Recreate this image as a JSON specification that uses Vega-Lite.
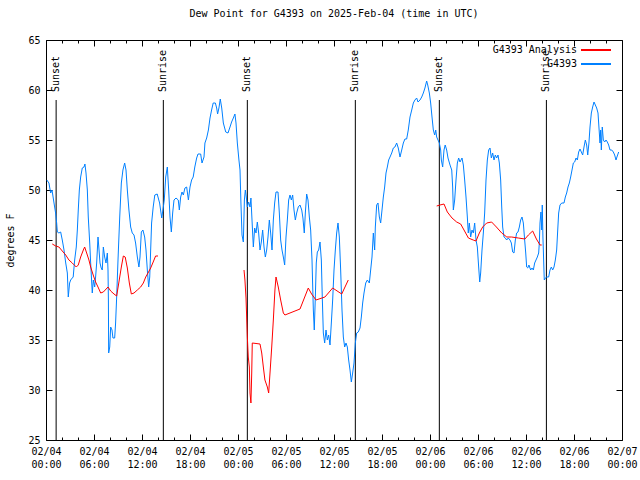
{
"$schema":"https://vega.github.io/schema/vega-lite/v6.json",
"width":576,"height":400,"autosize":"none",
"padding":{"left":46,"top":40,"right":18,"bottom":40},
"title":{"text":"Dew Point for G4393 on 2025-Feb-04 (time in UTC)","font":"DejaVu Sans Mono","fontSize":10,"fontWeight":"normal","color":"black","offset":16,"anchor":"middle"},
"config":{"view":{"stroke":"black","strokeWidth":1},"font":"DejaVu Sans Mono",
"axis":{"domainColor":"black","tickColor":"black","labelColor":"black","grid":false,"labelFont":"DejaVu Sans Mono","labelFontSize":10,"titleFont":"DejaVu Sans Mono","titleFontSize":10,"titleFontWeight":"normal","titleColor":"black"}},
"datasets":{
"sun":[{"t":"2025-02-04T01:16Z","label":"Sunset"},{"t":"2025-02-04T14:40Z","label":"Sunrise"},{"t":"2025-02-05T01:10Z","label":"Sunset"},{"t":"2025-02-05T14:40Z","label":"Sunrise"},{"t":"2025-02-06T01:10Z","label":"Sunset"},{"t":"2025-02-06T14:33Z","label":"Sunrise"}],
"red":[
{"t":"2025-02-04T00:47Z","v":44.6,"seg":"a","s":"G4393 Analysis"},{"t":"2025-02-04T01:13Z","v":44.4,"seg":"a","s":"G4393 Analysis"},{"t":"2025-02-04T01:37Z","v":44.3,"seg":"a","s":"G4393 Analysis"},{"t":"2025-02-04T02:02Z","v":43.9,"seg":"a","s":"G4393 Analysis"},{"t":"2025-02-04T02:28Z","v":43.5,"seg":"a","s":"G4393 Analysis"},{"t":"2025-02-04T02:52Z","v":43.0,"seg":"a","s":"G4393 Analysis"},{"t":"2025-02-04T03:17Z","v":42.7,"seg":"a","s":"G4393 Analysis"},{"t":"2025-02-04T03:47Z","v":42.3,"seg":"a","s":"G4393 Analysis"},{"t":"2025-02-04T04:02Z","v":42.5,"seg":"a","s":"G4393 Analysis"},{"t":"2025-02-04T04:20Z","v":43.3,"seg":"a","s":"G4393 Analysis"},{"t":"2025-02-04T04:40Z","v":44.0,"seg":"a","s":"G4393 Analysis"},{"t":"2025-02-04T04:50Z","v":44.3,"seg":"a","s":"G4393 Analysis"},{"t":"2025-02-04T05:05Z","v":43.7,"seg":"a","s":"G4393 Analysis"},{"t":"2025-02-04T05:22Z","v":43.0,"seg":"a","s":"G4393 Analysis"},{"t":"2025-02-04T05:35Z","v":42.3,"seg":"a","s":"G4393 Analysis"},{"t":"2025-02-04T05:54Z","v":41.5,"seg":"a","s":"G4393 Analysis"},{"t":"2025-02-04T06:12Z","v":40.8,"seg":"a","s":"G4393 Analysis"},{"t":"2025-02-04T06:30Z","v":40.3,"seg":"a","s":"G4393 Analysis"},{"t":"2025-02-04T06:50Z","v":39.7,"seg":"a","s":"G4393 Analysis"},{"t":"2025-02-04T07:10Z","v":39.8,"seg":"a","s":"G4393 Analysis"},{"t":"2025-02-04T07:45Z","v":40.3,"seg":"a","s":"G4393 Analysis"},{"t":"2025-02-04T08:05Z","v":39.9,"seg":"a","s":"G4393 Analysis"},{"t":"2025-02-04T08:30Z","v":39.6,"seg":"a","s":"G4393 Analysis"},{"t":"2025-02-04T08:50Z","v":39.4,"seg":"a","s":"G4393 Analysis"},{"t":"2025-02-04T09:07Z","v":40.8,"seg":"a","s":"G4393 Analysis"},{"t":"2025-02-04T09:25Z","v":42.3,"seg":"a","s":"G4393 Analysis"},{"t":"2025-02-04T09:40Z","v":43.4,"seg":"a","s":"G4393 Analysis"},{"t":"2025-02-04T09:54Z","v":43.3,"seg":"a","s":"G4393 Analysis"},{"t":"2025-02-04T10:10Z","v":42.2,"seg":"a","s":"G4393 Analysis"},{"t":"2025-02-04T10:25Z","v":40.7,"seg":"a","s":"G4393 Analysis"},{"t":"2025-02-04T10:40Z","v":39.6,"seg":"a","s":"G4393 Analysis"},{"t":"2025-02-04T11:00Z","v":39.7,"seg":"a","s":"G4393 Analysis"},{"t":"2025-02-04T11:25Z","v":40.0,"seg":"a","s":"G4393 Analysis"},{"t":"2025-02-04T11:50Z","v":40.3,"seg":"a","s":"G4393 Analysis"},{"t":"2025-02-04T12:10Z","v":40.7,"seg":"a","s":"G4393 Analysis"},{"t":"2025-02-04T12:28Z","v":41.3,"seg":"a","s":"G4393 Analysis"},{"t":"2025-02-04T12:45Z","v":41.7,"seg":"a","s":"G4393 Analysis"},{"t":"2025-02-04T13:05Z","v":42.2,"seg":"a","s":"G4393 Analysis"},{"t":"2025-02-04T13:24Z","v":42.8,"seg":"a","s":"G4393 Analysis"},{"t":"2025-02-04T13:42Z","v":43.4,"seg":"a","s":"G4393 Analysis"},{"t":"2025-02-04T14:00Z","v":43.4,"seg":"a","s":"G4393 Analysis"},
{"t":"2025-02-05T00:45Z","v":42.0,"seg":"b","s":"G4393 Analysis"},{"t":"2025-02-05T00:52Z","v":41.0,"seg":"b","s":"G4393 Analysis"},{"t":"2025-02-05T01:00Z","v":39.2,"seg":"b","s":"G4393 Analysis"},{"t":"2025-02-05T01:05Z","v":37.3,"seg":"b","s":"G4393 Analysis"},{"t":"2025-02-05T01:10Z","v":35.3,"seg":"b","s":"G4393 Analysis"},{"t":"2025-02-05T01:17Z","v":33.3,"seg":"b","s":"G4393 Analysis"},{"t":"2025-02-05T01:25Z","v":32.3,"seg":"b","s":"G4393 Analysis"},{"t":"2025-02-05T01:30Z","v":29.7,"seg":"b","s":"G4393 Analysis"},{"t":"2025-02-05T01:37Z","v":28.7,"seg":"b","s":"G4393 Analysis"},{"t":"2025-02-05T01:43Z","v":31.7,"seg":"b","s":"G4393 Analysis"},{"t":"2025-02-05T01:47Z","v":34.7,"seg":"b","s":"G4393 Analysis"},{"t":"2025-02-05T02:45Z","v":34.6,"seg":"b","s":"G4393 Analysis"},{"t":"2025-02-05T02:58Z","v":33.7,"seg":"b","s":"G4393 Analysis"},{"t":"2025-02-05T03:10Z","v":32.3,"seg":"b","s":"G4393 Analysis"},{"t":"2025-02-05T03:22Z","v":31.0,"seg":"b","s":"G4393 Analysis"},{"t":"2025-02-05T03:40Z","v":30.3,"seg":"b","s":"G4393 Analysis"},{"t":"2025-02-05T03:50Z","v":29.7,"seg":"b","s":"G4393 Analysis"},{"t":"2025-02-05T04:00Z","v":31.7,"seg":"b","s":"G4393 Analysis"},{"t":"2025-02-05T04:13Z","v":34.3,"seg":"b","s":"G4393 Analysis"},{"t":"2025-02-05T04:25Z","v":37.0,"seg":"b","s":"G4393 Analysis"},{"t":"2025-02-05T04:37Z","v":40.0,"seg":"b","s":"G4393 Analysis"},{"t":"2025-02-05T04:45Z","v":41.3,"seg":"b","s":"G4393 Analysis"},{"t":"2025-02-05T05:02Z","v":40.3,"seg":"b","s":"G4393 Analysis"},{"t":"2025-02-05T05:20Z","v":39.0,"seg":"b","s":"G4393 Analysis"},{"t":"2025-02-05T05:40Z","v":37.7,"seg":"b","s":"G4393 Analysis"},{"t":"2025-02-05T05:52Z","v":37.5,"seg":"b","s":"G4393 Analysis"},{"t":"2025-02-05T07:45Z","v":38.1,"seg":"b","s":"G4393 Analysis"},{"t":"2025-02-05T08:47Z","v":40.2,"seg":"b","s":"G4393 Analysis"},{"t":"2025-02-05T09:12Z","v":39.6,"seg":"b","s":"G4393 Analysis"},{"t":"2025-02-05T09:45Z","v":39.0,"seg":"b","s":"G4393 Analysis"},{"t":"2025-02-05T10:52Z","v":39.3,"seg":"b","s":"G4393 Analysis"},{"t":"2025-02-05T11:50Z","v":40.2,"seg":"b","s":"G4393 Analysis"},{"t":"2025-02-05T12:58Z","v":39.6,"seg":"b","s":"G4393 Analysis"},{"t":"2025-02-05T13:47Z","v":41.0,"seg":"b","s":"G4393 Analysis"},
{"t":"2025-02-06T00:50Z","v":48.4,"seg":"c","s":"G4393 Analysis"},{"t":"2025-02-06T01:15Z","v":48.5,"seg":"c","s":"G4393 Analysis"},{"t":"2025-02-06T01:45Z","v":48.6,"seg":"c","s":"G4393 Analysis"},{"t":"2025-02-06T02:10Z","v":47.8,"seg":"c","s":"G4393 Analysis"},{"t":"2025-02-06T02:45Z","v":47.2,"seg":"c","s":"G4393 Analysis"},{"t":"2025-02-06T03:20Z","v":46.8,"seg":"c","s":"G4393 Analysis"},{"t":"2025-02-06T03:50Z","v":46.6,"seg":"c","s":"G4393 Analysis"},{"t":"2025-02-06T04:15Z","v":46.0,"seg":"c","s":"G4393 Analysis"},{"t":"2025-02-06T04:48Z","v":45.2,"seg":"c","s":"G4393 Analysis"},{"t":"2025-02-06T05:24Z","v":45.0,"seg":"c","s":"G4393 Analysis"},{"t":"2025-02-06T05:45Z","v":44.9,"seg":"c","s":"G4393 Analysis"},{"t":"2025-02-06T06:10Z","v":45.7,"seg":"c","s":"G4393 Analysis"},{"t":"2025-02-06T06:35Z","v":46.3,"seg":"c","s":"G4393 Analysis"},{"t":"2025-02-06T07:05Z","v":46.7,"seg":"c","s":"G4393 Analysis"},{"t":"2025-02-06T07:42Z","v":46.8,"seg":"c","s":"G4393 Analysis"},{"t":"2025-02-06T08:18Z","v":46.3,"seg":"c","s":"G4393 Analysis"},{"t":"2025-02-06T08:58Z","v":45.7,"seg":"c","s":"G4393 Analysis"},{"t":"2025-02-06T09:36Z","v":45.3,"seg":"c","s":"G4393 Analysis"},{"t":"2025-02-06T10:12Z","v":45.3,"seg":"c","s":"G4393 Analysis"},{"t":"2025-02-06T11:02Z","v":45.2,"seg":"c","s":"G4393 Analysis"},{"t":"2025-02-06T11:52Z","v":45.1,"seg":"c","s":"G4393 Analysis"},{"t":"2025-02-06T12:18Z","v":45.5,"seg":"c","s":"G4393 Analysis"},{"t":"2025-02-06T12:50Z","v":45.9,"seg":"c","s":"G4393 Analysis"},{"t":"2025-02-06T13:18Z","v":45.1,"seg":"c","s":"G4393 Analysis"},{"t":"2025-02-06T13:45Z","v":44.5,"seg":"c","s":"G4393 Analysis"},{"t":"2025-02-06T13:58Z","v":44.5,"seg":"c","s":"G4393 Analysis"}],
"blue":[
{"t":"2025-02-04T00:06Z","v":51.0,"s":"G4393"},{"t":"2025-02-04T00:22Z","v":50.7,"s":"G4393"},{"t":"2025-02-04T00:35Z","v":49.7,"s":"G4393"},{"t":"2025-02-04T00:45Z","v":50.0,"s":"G4393"},{"t":"2025-02-04T01:00Z","v":48.7,"s":"G4393"},{"t":"2025-02-04T01:12Z","v":47.7,"s":"G4393"},{"t":"2025-02-04T01:20Z","v":46.7,"s":"G4393"},{"t":"2025-02-04T01:25Z","v":45.8,"s":"G4393"},{"t":"2025-02-04T01:37Z","v":45.7,"s":"G4393"},{"t":"2025-02-04T01:50Z","v":45.8,"s":"G4393"},{"t":"2025-02-04T02:02Z","v":45.0,"s":"G4393"},{"t":"2025-02-04T02:15Z","v":44.0,"s":"G4393"},{"t":"2025-02-04T02:28Z","v":42.7,"s":"G4393"},{"t":"2025-02-04T02:40Z","v":41.7,"s":"G4393"},{"t":"2025-02-04T02:47Z","v":39.3,"s":"G4393"},{"t":"2025-02-04T02:57Z","v":40.7,"s":"G4393"},{"t":"2025-02-04T03:05Z","v":41.0,"s":"G4393"},{"t":"2025-02-04T03:17Z","v":41.2,"s":"G4393"},{"t":"2025-02-04T03:24Z","v":41.3,"s":"G4393"},{"t":"2025-02-04T03:35Z","v":43.0,"s":"G4393"},{"t":"2025-02-04T03:47Z","v":44.3,"s":"G4393"},{"t":"2025-02-04T03:55Z","v":46.0,"s":"G4393"},{"t":"2025-02-04T04:02Z","v":48.0,"s":"G4393"},{"t":"2025-02-04T04:10Z","v":50.0,"s":"G4393"},{"t":"2025-02-04T04:20Z","v":51.3,"s":"G4393"},{"t":"2025-02-04T04:32Z","v":52.2,"s":"G4393"},{"t":"2025-02-04T04:45Z","v":52.3,"s":"G4393"},{"t":"2025-02-04T04:52Z","v":52.6,"s":"G4393"},{"t":"2025-02-04T05:00Z","v":51.7,"s":"G4393"},{"t":"2025-02-04T05:10Z","v":50.0,"s":"G4393"},{"t":"2025-02-04T05:17Z","v":47.3,"s":"G4393"},{"t":"2025-02-04T05:28Z","v":44.7,"s":"G4393"},{"t":"2025-02-04T05:35Z","v":42.7,"s":"G4393"},{"t":"2025-02-04T05:47Z","v":39.7,"s":"G4393"},{"t":"2025-02-04T05:55Z","v":41.0,"s":"G4393"},{"t":"2025-02-04T06:05Z","v":40.3,"s":"G4393"},{"t":"2025-02-04T06:12Z","v":41.3,"s":"G4393"},{"t":"2025-02-04T06:20Z","v":42.7,"s":"G4393"},{"t":"2025-02-04T06:30Z","v":45.3,"s":"G4393"},{"t":"2025-02-04T06:36Z","v":44.3,"s":"G4393"},{"t":"2025-02-04T06:45Z","v":42.7,"s":"G4393"},{"t":"2025-02-04T06:54Z","v":42.2,"s":"G4393"},{"t":"2025-02-04T07:02Z","v":42.0,"s":"G4393"},{"t":"2025-02-04T07:10Z","v":44.3,"s":"G4393"},{"t":"2025-02-04T07:20Z","v":43.3,"s":"G4393"},{"t":"2025-02-04T07:30Z","v":42.7,"s":"G4393"},{"t":"2025-02-04T07:40Z","v":43.7,"s":"G4393"},{"t":"2025-02-04T07:45Z","v":42.0,"s":"G4393"},{"t":"2025-02-04T07:48Z","v":39.0,"s":"G4393"},{"t":"2025-02-04T07:50Z","v":33.7,"s":"G4393"},{"t":"2025-02-04T07:58Z","v":34.3,"s":"G4393"},{"t":"2025-02-04T08:05Z","v":36.3,"s":"G4393"},{"t":"2025-02-04T08:15Z","v":36.0,"s":"G4393"},{"t":"2025-02-04T08:22Z","v":35.2,"s":"G4393"},{"t":"2025-02-04T08:35Z","v":35.2,"s":"G4393"},{"t":"2025-02-04T08:42Z","v":36.7,"s":"G4393"},{"t":"2025-02-04T08:50Z","v":39.3,"s":"G4393"},{"t":"2025-02-04T09:00Z","v":43.0,"s":"G4393"},{"t":"2025-02-04T09:13Z","v":47.3,"s":"G4393"},{"t":"2025-02-04T09:25Z","v":50.7,"s":"G4393"},{"t":"2025-02-04T09:37Z","v":52.0,"s":"G4393"},{"t":"2025-02-04T09:50Z","v":52.7,"s":"G4393"},{"t":"2025-02-04T10:00Z","v":52.0,"s":"G4393"},{"t":"2025-02-04T10:10Z","v":50.0,"s":"G4393"},{"t":"2025-02-04T10:22Z","v":48.0,"s":"G4393"},{"t":"2025-02-04T10:35Z","v":46.3,"s":"G4393"},{"t":"2025-02-04T10:47Z","v":45.7,"s":"G4393"},{"t":"2025-02-04T11:00Z","v":45.5,"s":"G4393"},{"t":"2025-02-04T11:12Z","v":44.7,"s":"G4393"},{"t":"2025-02-04T11:25Z","v":43.3,"s":"G4393"},{"t":"2025-02-04T11:37Z","v":42.3,"s":"G4393"},{"t":"2025-02-04T11:45Z","v":43.3,"s":"G4393"},{"t":"2025-02-04T11:55Z","v":45.8,"s":"G4393"},{"t":"2025-02-04T12:07Z","v":46.0,"s":"G4393"},{"t":"2025-02-04T12:20Z","v":45.3,"s":"G4393"},{"t":"2025-02-04T12:30Z","v":44.0,"s":"G4393"},{"t":"2025-02-04T12:40Z","v":42.0,"s":"G4393"},{"t":"2025-02-04T12:50Z","v":40.3,"s":"G4393"},{"t":"2025-02-04T12:58Z","v":41.3,"s":"G4393"},{"t":"2025-02-04T13:05Z","v":44.0,"s":"G4393"},{"t":"2025-02-04T13:12Z","v":46.7,"s":"G4393"},{"t":"2025-02-04T13:24Z","v":48.3,"s":"G4393"},{"t":"2025-02-04T13:36Z","v":49.5,"s":"G4393"},{"t":"2025-02-04T13:54Z","v":49.6,"s":"G4393"},{"t":"2025-02-04T14:12Z","v":48.7,"s":"G4393"},{"t":"2025-02-04T14:28Z","v":47.2,"s":"G4393"},{"t":"2025-02-04T14:40Z","v":48.3,"s":"G4393"},{"t":"2025-02-04T14:47Z","v":49.0,"s":"G4393"},{"t":"2025-02-04T14:58Z","v":51.3,"s":"G4393"},{"t":"2025-02-04T15:10Z","v":52.3,"s":"G4393"},{"t":"2025-02-04T15:20Z","v":50.0,"s":"G4393"},{"t":"2025-02-04T15:30Z","v":47.3,"s":"G4393"},{"t":"2025-02-04T15:40Z","v":45.8,"s":"G4393"},{"t":"2025-02-04T15:50Z","v":47.7,"s":"G4393"},{"t":"2025-02-04T16:00Z","v":49.0,"s":"G4393"},{"t":"2025-02-04T16:15Z","v":49.2,"s":"G4393"},{"t":"2025-02-04T16:32Z","v":49.0,"s":"G4393"},{"t":"2025-02-04T16:40Z","v":48.0,"s":"G4393"},{"t":"2025-02-04T16:50Z","v":49.3,"s":"G4393"},{"t":"2025-02-04T17:00Z","v":49.8,"s":"G4393"},{"t":"2025-02-04T17:10Z","v":49.5,"s":"G4393"},{"t":"2025-02-04T17:22Z","v":50.2,"s":"G4393"},{"t":"2025-02-04T17:35Z","v":50.3,"s":"G4393"},{"t":"2025-02-04T17:48Z","v":49.0,"s":"G4393"},{"t":"2025-02-04T18:00Z","v":50.3,"s":"G4393"},{"t":"2025-02-04T18:12Z","v":51.0,"s":"G4393"},{"t":"2025-02-04T18:24Z","v":51.3,"s":"G4393"},{"t":"2025-02-04T18:36Z","v":52.3,"s":"G4393"},{"t":"2025-02-04T18:50Z","v":53.2,"s":"G4393"},{"t":"2025-02-04T19:00Z","v":53.6,"s":"G4393"},{"t":"2025-02-04T19:20Z","v":53.6,"s":"G4393"},{"t":"2025-02-04T19:30Z","v":52.7,"s":"G4393"},{"t":"2025-02-04T19:45Z","v":53.3,"s":"G4393"},{"t":"2025-02-04T19:52Z","v":54.7,"s":"G4393"},{"t":"2025-02-04T20:05Z","v":55.2,"s":"G4393"},{"t":"2025-02-04T20:18Z","v":56.0,"s":"G4393"},{"t":"2025-02-04T20:30Z","v":57.2,"s":"G4393"},{"t":"2025-02-04T20:42Z","v":58.0,"s":"G4393"},{"t":"2025-02-04T20:54Z","v":58.7,"s":"G4393"},{"t":"2025-02-04T21:10Z","v":58.7,"s":"G4393"},{"t":"2025-02-04T21:20Z","v":58.2,"s":"G4393"},{"t":"2025-02-04T21:27Z","v":57.6,"s":"G4393"},{"t":"2025-02-04T21:37Z","v":58.2,"s":"G4393"},{"t":"2025-02-04T21:47Z","v":59.1,"s":"G4393"},{"t":"2025-02-04T21:58Z","v":58.2,"s":"G4393"},{"t":"2025-02-04T22:10Z","v":56.7,"s":"G4393"},{"t":"2025-02-04T22:28Z","v":55.8,"s":"G4393"},{"t":"2025-02-04T22:45Z","v":55.7,"s":"G4393"},{"t":"2025-02-04T23:00Z","v":56.3,"s":"G4393"},{"t":"2025-02-04T23:12Z","v":56.8,"s":"G4393"},{"t":"2025-02-04T23:25Z","v":57.2,"s":"G4393"},{"t":"2025-02-04T23:37Z","v":57.6,"s":"G4393"},{"t":"2025-02-04T23:45Z","v":56.7,"s":"G4393"},{"t":"2025-02-04T23:55Z","v":54.7,"s":"G4393"},
{"t":"2025-02-05T00:07Z","v":53.0,"s":"G4393"},{"t":"2025-02-05T00:15Z","v":52.0,"s":"G4393"},{"t":"2025-02-05T00:22Z","v":48.7,"s":"G4393"},{"t":"2025-02-05T00:30Z","v":45.5,"s":"G4393"},{"t":"2025-02-05T00:40Z","v":44.8,"s":"G4393"},{"t":"2025-02-05T00:48Z","v":49.0,"s":"G4393"},{"t":"2025-02-05T00:55Z","v":50.0,"s":"G4393"},{"t":"2025-02-05T01:02Z","v":49.3,"s":"G4393"},{"t":"2025-02-05T01:10Z","v":48.3,"s":"G4393"},{"t":"2025-02-05T01:20Z","v":48.8,"s":"G4393"},{"t":"2025-02-05T01:30Z","v":48.3,"s":"G4393"},{"t":"2025-02-05T01:37Z","v":49.2,"s":"G4393"},{"t":"2025-02-05T01:45Z","v":47.0,"s":"G4393"},{"t":"2025-02-05T01:55Z","v":44.3,"s":"G4393"},{"t":"2025-02-05T02:05Z","v":46.2,"s":"G4393"},{"t":"2025-02-05T02:15Z","v":45.7,"s":"G4393"},{"t":"2025-02-05T02:25Z","v":46.8,"s":"G4393"},{"t":"2025-02-05T02:35Z","v":45.7,"s":"G4393"},{"t":"2025-02-05T02:45Z","v":44.0,"s":"G4393"},{"t":"2025-02-05T02:55Z","v":44.8,"s":"G4393"},{"t":"2025-02-05T03:05Z","v":46.0,"s":"G4393"},{"t":"2025-02-05T03:15Z","v":44.3,"s":"G4393"},{"t":"2025-02-05T03:25Z","v":43.3,"s":"G4393"},{"t":"2025-02-05T03:35Z","v":44.0,"s":"G4393"},{"t":"2025-02-05T03:45Z","v":45.3,"s":"G4393"},{"t":"2025-02-05T03:55Z","v":47.0,"s":"G4393"},{"t":"2025-02-05T04:05Z","v":45.7,"s":"G4393"},{"t":"2025-02-05T04:15Z","v":44.0,"s":"G4393"},{"t":"2025-02-05T04:25Z","v":47.0,"s":"G4393"},{"t":"2025-02-05T04:35Z","v":48.7,"s":"G4393"},{"t":"2025-02-05T04:45Z","v":49.8,"s":"G4393"},{"t":"2025-02-05T05:00Z","v":49.8,"s":"G4393"},{"t":"2025-02-05T05:10Z","v":47.7,"s":"G4393"},{"t":"2025-02-05T05:20Z","v":45.0,"s":"G4393"},{"t":"2025-02-05T05:30Z","v":44.0,"s":"G4393"},{"t":"2025-02-05T05:40Z","v":43.3,"s":"G4393"},{"t":"2025-02-05T05:50Z","v":42.5,"s":"G4393"},{"t":"2025-02-05T06:00Z","v":45.3,"s":"G4393"},{"t":"2025-02-05T06:10Z","v":47.0,"s":"G4393"},{"t":"2025-02-05T06:20Z","v":49.0,"s":"G4393"},{"t":"2025-02-05T06:30Z","v":49.5,"s":"G4393"},{"t":"2025-02-05T06:40Z","v":49.0,"s":"G4393"},{"t":"2025-02-05T06:50Z","v":49.5,"s":"G4393"},{"t":"2025-02-05T07:00Z","v":48.0,"s":"G4393"},{"t":"2025-02-05T07:10Z","v":47.0,"s":"G4393"},{"t":"2025-02-05T07:20Z","v":47.7,"s":"G4393"},{"t":"2025-02-05T07:32Z","v":48.3,"s":"G4393"},{"t":"2025-02-05T07:45Z","v":48.5,"s":"G4393"},{"t":"2025-02-05T07:58Z","v":48.0,"s":"G4393"},{"t":"2025-02-05T08:07Z","v":47.2,"s":"G4393"},{"t":"2025-02-05T08:17Z","v":45.7,"s":"G4393"},{"t":"2025-02-05T08:25Z","v":47.7,"s":"G4393"},{"t":"2025-02-05T08:35Z","v":49.6,"s":"G4393"},{"t":"2025-02-05T08:45Z","v":49.0,"s":"G4393"},{"t":"2025-02-05T08:55Z","v":47.3,"s":"G4393"},{"t":"2025-02-05T09:05Z","v":46.0,"s":"G4393"},{"t":"2025-02-05T09:15Z","v":43.0,"s":"G4393"},{"t":"2025-02-05T09:25Z","v":38.0,"s":"G4393"},{"t":"2025-02-05T09:32Z","v":36.0,"s":"G4393"},{"t":"2025-02-05T09:40Z","v":39.3,"s":"G4393"},{"t":"2025-02-05T09:47Z","v":42.7,"s":"G4393"},{"t":"2025-02-05T09:55Z","v":43.8,"s":"G4393"},{"t":"2025-02-05T10:05Z","v":44.0,"s":"G4393"},{"t":"2025-02-05T10:15Z","v":44.8,"s":"G4393"},{"t":"2025-02-05T10:25Z","v":43.0,"s":"G4393"},{"t":"2025-02-05T10:32Z","v":39.3,"s":"G4393"},{"t":"2025-02-05T10:40Z","v":35.7,"s":"G4393"},{"t":"2025-02-05T10:50Z","v":34.7,"s":"G4393"},{"t":"2025-02-05T11:00Z","v":36.0,"s":"G4393"},{"t":"2025-02-05T11:10Z","v":35.0,"s":"G4393"},{"t":"2025-02-05T11:20Z","v":35.5,"s":"G4393"},{"t":"2025-02-05T11:30Z","v":34.5,"s":"G4393"},{"t":"2025-02-05T11:40Z","v":36.7,"s":"G4393"},{"t":"2025-02-05T11:50Z","v":39.0,"s":"G4393"},{"t":"2025-02-05T12:00Z","v":42.0,"s":"G4393"},{"t":"2025-02-05T12:10Z","v":44.0,"s":"G4393"},{"t":"2025-02-05T12:20Z","v":45.7,"s":"G4393"},{"t":"2025-02-05T12:30Z","v":46.7,"s":"G4393"},{"t":"2025-02-05T12:40Z","v":45.3,"s":"G4393"},{"t":"2025-02-05T12:50Z","v":42.0,"s":"G4393"},{"t":"2025-02-05T13:00Z","v":38.0,"s":"G4393"},{"t":"2025-02-05T13:10Z","v":35.3,"s":"G4393"},{"t":"2025-02-05T13:20Z","v":34.3,"s":"G4393"},{"t":"2025-02-05T13:30Z","v":34.7,"s":"G4393"},{"t":"2025-02-05T13:40Z","v":34.3,"s":"G4393"},{"t":"2025-02-05T13:50Z","v":33.0,"s":"G4393"},{"t":"2025-02-05T14:00Z","v":32.0,"s":"G4393"},{"t":"2025-02-05T14:10Z","v":30.8,"s":"G4393"},{"t":"2025-02-05T14:20Z","v":31.7,"s":"G4393"},{"t":"2025-02-05T14:30Z","v":32.7,"s":"G4393"},{"t":"2025-02-05T14:40Z","v":34.7,"s":"G4393"},{"t":"2025-02-05T14:50Z","v":35.7,"s":"G4393"},{"t":"2025-02-05T15:02Z","v":35.8,"s":"G4393"},{"t":"2025-02-05T15:15Z","v":36.2,"s":"G4393"},{"t":"2025-02-05T15:25Z","v":37.3,"s":"G4393"},{"t":"2025-02-05T15:35Z","v":38.7,"s":"G4393"},{"t":"2025-02-05T15:45Z","v":39.7,"s":"G4393"},{"t":"2025-02-05T15:58Z","v":40.7,"s":"G4393"},{"t":"2025-02-05T16:10Z","v":41.0,"s":"G4393"},{"t":"2025-02-05T16:25Z","v":40.7,"s":"G4393"},{"t":"2025-02-05T16:35Z","v":42.0,"s":"G4393"},{"t":"2025-02-05T16:45Z","v":43.3,"s":"G4393"},{"t":"2025-02-05T16:55Z","v":45.7,"s":"G4393"},{"t":"2025-02-05T17:05Z","v":44.0,"s":"G4393"},{"t":"2025-02-05T17:10Z","v":46.3,"s":"G4393"},{"t":"2025-02-05T17:20Z","v":48.5,"s":"G4393"},{"t":"2025-02-05T17:30Z","v":48.7,"s":"G4393"},{"t":"2025-02-05T17:40Z","v":47.3,"s":"G4393"},{"t":"2025-02-05T17:50Z","v":46.7,"s":"G4393"},{"t":"2025-02-05T18:00Z","v":48.0,"s":"G4393"},{"t":"2025-02-05T18:10Z","v":49.3,"s":"G4393"},{"t":"2025-02-05T18:20Z","v":50.3,"s":"G4393"},{"t":"2025-02-05T18:30Z","v":51.7,"s":"G4393"},{"t":"2025-02-05T18:40Z","v":52.3,"s":"G4393"},{"t":"2025-02-05T18:50Z","v":53.0,"s":"G4393"},{"t":"2025-02-05T19:00Z","v":53.3,"s":"G4393"},{"t":"2025-02-05T19:13Z","v":53.7,"s":"G4393"},{"t":"2025-02-05T19:25Z","v":54.2,"s":"G4393"},{"t":"2025-02-05T19:37Z","v":54.3,"s":"G4393"},{"t":"2025-02-05T19:50Z","v":54.7,"s":"G4393"},{"t":"2025-02-05T20:02Z","v":54.2,"s":"G4393"},{"t":"2025-02-05T20:15Z","v":53.3,"s":"G4393"},{"t":"2025-02-05T20:28Z","v":54.0,"s":"G4393"},{"t":"2025-02-05T20:40Z","v":54.7,"s":"G4393"},{"t":"2025-02-05T20:52Z","v":55.1,"s":"G4393"},{"t":"2025-02-05T21:05Z","v":55.1,"s":"G4393"},{"t":"2025-02-05T21:17Z","v":56.0,"s":"G4393"},{"t":"2025-02-05T21:30Z","v":57.3,"s":"G4393"},{"t":"2025-02-05T21:43Z","v":58.0,"s":"G4393"},{"t":"2025-02-05T21:55Z","v":58.7,"s":"G4393"},{"t":"2025-02-05T22:07Z","v":59.0,"s":"G4393"},{"t":"2025-02-05T22:20Z","v":59.2,"s":"G4393"},{"t":"2025-02-05T22:30Z","v":58.8,"s":"G4393"},{"t":"2025-02-05T22:45Z","v":59.0,"s":"G4393"},{"t":"2025-02-05T22:58Z","v":59.3,"s":"G4393"},{"t":"2025-02-05T23:10Z","v":59.7,"s":"G4393"},{"t":"2025-02-05T23:22Z","v":60.2,"s":"G4393"},{"t":"2025-02-05T23:35Z","v":60.9,"s":"G4393"},{"t":"2025-02-05T23:43Z","v":60.5,"s":"G4393"},{"t":"2025-02-05T23:55Z","v":59.7,"s":"G4393"},
{"t":"2025-02-06T00:05Z","v":58.7,"s":"G4393"},{"t":"2025-02-06T00:15Z","v":57.3,"s":"G4393"},{"t":"2025-02-06T00:25Z","v":56.0,"s":"G4393"},{"t":"2025-02-06T00:35Z","v":55.5,"s":"G4393"},{"t":"2025-02-06T00:43Z","v":56.0,"s":"G4393"},{"t":"2025-02-06T00:50Z","v":55.3,"s":"G4393"},{"t":"2025-02-06T01:00Z","v":55.0,"s":"G4393"},{"t":"2025-02-06T01:10Z","v":54.7,"s":"G4393"},{"t":"2025-02-06T01:20Z","v":54.0,"s":"G4393"},{"t":"2025-02-06T01:25Z","v":53.0,"s":"G4393"},{"t":"2025-02-06T01:35Z","v":52.3,"s":"G4393"},{"t":"2025-02-06T01:45Z","v":54.0,"s":"G4393"},{"t":"2025-02-06T01:54Z","v":54.5,"s":"G4393"},{"t":"2025-02-06T02:05Z","v":54.0,"s":"G4393"},{"t":"2025-02-06T02:15Z","v":53.2,"s":"G4393"},{"t":"2025-02-06T02:30Z","v":52.5,"s":"G4393"},{"t":"2025-02-06T02:43Z","v":52.0,"s":"G4393"},{"t":"2025-02-06T02:50Z","v":50.3,"s":"G4393"},{"t":"2025-02-06T02:55Z","v":48.0,"s":"G4393"},{"t":"2025-02-06T03:05Z","v":49.0,"s":"G4393"},{"t":"2025-02-06T03:15Z","v":51.0,"s":"G4393"},{"t":"2025-02-06T03:25Z","v":52.7,"s":"G4393"},{"t":"2025-02-06T03:35Z","v":53.2,"s":"G4393"},{"t":"2025-02-06T03:45Z","v":52.8,"s":"G4393"},{"t":"2025-02-06T04:00Z","v":53.2,"s":"G4393"},{"t":"2025-02-06T04:10Z","v":52.5,"s":"G4393"},{"t":"2025-02-06T04:20Z","v":51.0,"s":"G4393"},{"t":"2025-02-06T04:30Z","v":49.3,"s":"G4393"},{"t":"2025-02-06T04:40Z","v":47.3,"s":"G4393"},{"t":"2025-02-06T04:47Z","v":45.7,"s":"G4393"},{"t":"2025-02-06T04:55Z","v":46.7,"s":"G4393"},{"t":"2025-02-06T05:05Z","v":45.3,"s":"G4393"},{"t":"2025-02-06T05:15Z","v":46.0,"s":"G4393"},{"t":"2025-02-06T05:25Z","v":45.7,"s":"G4393"},{"t":"2025-02-06T05:35Z","v":46.7,"s":"G4393"},{"t":"2025-02-06T05:45Z","v":45.0,"s":"G4393"},{"t":"2025-02-06T05:55Z","v":44.3,"s":"G4393"},{"t":"2025-02-06T06:05Z","v":42.3,"s":"G4393"},{"t":"2025-02-06T06:13Z","v":40.8,"s":"G4393"},{"t":"2025-02-06T06:20Z","v":41.7,"s":"G4393"},{"t":"2025-02-06T06:30Z","v":44.0,"s":"G4393"},{"t":"2025-02-06T06:40Z","v":45.7,"s":"G4393"},{"t":"2025-02-06T06:50Z","v":47.7,"s":"G4393"},{"t":"2025-02-06T07:00Z","v":51.0,"s":"G4393"},{"t":"2025-02-06T07:10Z","v":53.0,"s":"G4393"},{"t":"2025-02-06T07:20Z","v":54.0,"s":"G4393"},{"t":"2025-02-06T07:30Z","v":54.2,"s":"G4393"},{"t":"2025-02-06T07:40Z","v":53.2,"s":"G4393"},{"t":"2025-02-06T07:50Z","v":53.7,"s":"G4393"},{"t":"2025-02-06T08:00Z","v":53.0,"s":"G4393"},{"t":"2025-02-06T08:10Z","v":53.5,"s":"G4393"},{"t":"2025-02-06T08:20Z","v":53.2,"s":"G4393"},{"t":"2025-02-06T08:30Z","v":53.5,"s":"G4393"},{"t":"2025-02-06T08:40Z","v":52.7,"s":"G4393"},{"t":"2025-02-06T08:50Z","v":51.0,"s":"G4393"},{"t":"2025-02-06T08:58Z","v":48.3,"s":"G4393"},{"t":"2025-02-06T09:05Z","v":46.3,"s":"G4393"},{"t":"2025-02-06T09:15Z","v":45.3,"s":"G4393"},{"t":"2025-02-06T09:25Z","v":45.2,"s":"G4393"},{"t":"2025-02-06T09:35Z","v":45.0,"s":"G4393"},{"t":"2025-02-06T09:47Z","v":45.2,"s":"G4393"},{"t":"2025-02-06T10:00Z","v":45.0,"s":"G4393"},{"t":"2025-02-06T10:10Z","v":44.7,"s":"G4393"},{"t":"2025-02-06T10:20Z","v":43.8,"s":"G4393"},{"t":"2025-02-06T10:30Z","v":43.7,"s":"G4393"},{"t":"2025-02-06T10:40Z","v":45.0,"s":"G4393"},{"t":"2025-02-06T10:50Z","v":45.7,"s":"G4393"},{"t":"2025-02-06T11:00Z","v":45.8,"s":"G4393"},{"t":"2025-02-06T11:10Z","v":46.3,"s":"G4393"},{"t":"2025-02-06T11:20Z","v":47.0,"s":"G4393"},{"t":"2025-02-06T11:30Z","v":47.3,"s":"G4393"},{"t":"2025-02-06T11:40Z","v":46.7,"s":"G4393"},{"t":"2025-02-06T11:50Z","v":45.0,"s":"G4393"},{"t":"2025-02-06T11:58Z","v":43.7,"s":"G4393"},{"t":"2025-02-06T12:05Z","v":42.3,"s":"G4393"},{"t":"2025-02-06T12:13Z","v":42.2,"s":"G4393"},{"t":"2025-02-06T12:22Z","v":42.5,"s":"G4393"},{"t":"2025-02-06T12:35Z","v":42.0,"s":"G4393"},{"t":"2025-02-06T12:45Z","v":42.2,"s":"G4393"},{"t":"2025-02-06T12:55Z","v":42.0,"s":"G4393"},{"t":"2025-02-06T13:05Z","v":42.7,"s":"G4393"},{"t":"2025-02-06T13:15Z","v":43.0,"s":"G4393"},{"t":"2025-02-06T13:25Z","v":43.3,"s":"G4393"},{"t":"2025-02-06T13:35Z","v":43.7,"s":"G4393"},{"t":"2025-02-06T13:40Z","v":44.7,"s":"G4393"},{"t":"2025-02-06T13:45Z","v":46.7,"s":"G4393"},{"t":"2025-02-06T13:52Z","v":47.8,"s":"G4393"},{"t":"2025-02-06T13:58Z","v":46.0,"s":"G4393"},{"t":"2025-02-06T14:02Z","v":48.5,"s":"G4393"},{"t":"2025-02-06T14:07Z","v":45.3,"s":"G4393"},{"t":"2025-02-06T14:13Z","v":42.7,"s":"G4393"},{"t":"2025-02-06T14:17Z","v":41.0,"s":"G4393"},{"t":"2025-02-06T14:25Z","v":41.2,"s":"G4393"},{"t":"2025-02-06T14:35Z","v":41.3,"s":"G4393"},{"t":"2025-02-06T14:50Z","v":41.3,"s":"G4393"},{"t":"2025-02-06T15:00Z","v":42.0,"s":"G4393"},{"t":"2025-02-06T15:10Z","v":42.3,"s":"G4393"},{"t":"2025-02-06T15:20Z","v":42.0,"s":"G4393"},{"t":"2025-02-06T15:30Z","v":42.3,"s":"G4393"},{"t":"2025-02-06T15:40Z","v":43.0,"s":"G4393"},{"t":"2025-02-06T15:50Z","v":44.0,"s":"G4393"},{"t":"2025-02-06T15:58Z","v":46.0,"s":"G4393"},{"t":"2025-02-06T16:05Z","v":47.7,"s":"G4393"},{"t":"2025-02-06T16:15Z","v":48.5,"s":"G4393"},{"t":"2025-02-06T16:28Z","v":48.7,"s":"G4393"},{"t":"2025-02-06T16:45Z","v":48.7,"s":"G4393"},{"t":"2025-02-06T16:55Z","v":49.3,"s":"G4393"},{"t":"2025-02-06T17:05Z","v":49.7,"s":"G4393"},{"t":"2025-02-06T17:15Z","v":50.3,"s":"G4393"},{"t":"2025-02-06T17:25Z","v":50.7,"s":"G4393"},{"t":"2025-02-06T17:35Z","v":51.3,"s":"G4393"},{"t":"2025-02-06T17:45Z","v":52.0,"s":"G4393"},{"t":"2025-02-06T17:55Z","v":52.7,"s":"G4393"},{"t":"2025-02-06T18:05Z","v":52.8,"s":"G4393"},{"t":"2025-02-06T18:15Z","v":53.2,"s":"G4393"},{"t":"2025-02-06T18:25Z","v":53.0,"s":"G4393"},{"t":"2025-02-06T18:35Z","v":53.8,"s":"G4393"},{"t":"2025-02-06T18:45Z","v":54.1,"s":"G4393"},{"t":"2025-02-06T18:55Z","v":53.8,"s":"G4393"},{"t":"2025-02-06T19:05Z","v":53.5,"s":"G4393"},{"t":"2025-02-06T19:15Z","v":54.3,"s":"G4393"},{"t":"2025-02-06T19:25Z","v":55.0,"s":"G4393"},{"t":"2025-02-06T19:35Z","v":54.5,"s":"G4393"},{"t":"2025-02-06T19:43Z","v":53.5,"s":"G4393"},{"t":"2025-02-06T19:52Z","v":54.7,"s":"G4393"},{"t":"2025-02-06T20:00Z","v":56.3,"s":"G4393"},{"t":"2025-02-06T20:10Z","v":57.7,"s":"G4393"},{"t":"2025-02-06T20:20Z","v":58.3,"s":"G4393"},{"t":"2025-02-06T20:30Z","v":58.8,"s":"G4393"},{"t":"2025-02-06T20:40Z","v":58.5,"s":"G4393"},{"t":"2025-02-06T20:50Z","v":58.2,"s":"G4393"},{"t":"2025-02-06T21:00Z","v":57.7,"s":"G4393"},{"t":"2025-02-06T21:07Z","v":56.3,"s":"G4393"},{"t":"2025-02-06T21:15Z","v":54.7,"s":"G4393"},{"t":"2025-02-06T21:20Z","v":56.0,"s":"G4393"},{"t":"2025-02-06T21:25Z","v":54.0,"s":"G4393"},{"t":"2025-02-06T21:32Z","v":56.3,"s":"G4393"},{"t":"2025-02-06T21:40Z","v":55.0,"s":"G4393"},{"t":"2025-02-06T21:50Z","v":54.8,"s":"G4393"},{"t":"2025-02-06T22:00Z","v":55.0,"s":"G4393"},{"t":"2025-02-06T22:10Z","v":54.8,"s":"G4393"},{"t":"2025-02-06T22:20Z","v":54.5,"s":"G4393"},{"t":"2025-02-06T22:30Z","v":54.0,"s":"G4393"},{"t":"2025-02-06T22:43Z","v":54.0,"s":"G4393"},{"t":"2025-02-06T22:55Z","v":53.8,"s":"G4393"},{"t":"2025-02-06T23:05Z","v":53.5,"s":"G4393"},{"t":"2025-02-06T23:15Z","v":53.0,"s":"G4393"},{"t":"2025-02-06T23:22Z","v":53.3,"s":"G4393"},{"t":"2025-02-06T23:35Z","v":53.8,"s":"G4393"}]
},
"resolve":{"axis":{"x":"independent","y":"independent"}},
"layer":[
{"data":{"name":"sun"},"mark":{"type":"rule","color":"black","strokeWidth":1},
 "encoding":{
  "x":{"field":"t","type":"temporal","scale":{"type":"utc","domain":[1738627200000,1738886400000]},
       "axis":{"orient":"top","labels":false,"title":null,"domain":false,"values":[1738627200000,1738634400000,1738641600000,1738648800000,1738656000000,1738663200000,1738670400000,1738677600000,1738684800000,1738692000000,1738699200000,1738706400000,1738713600000,1738720800000,1738728000000,1738735200000,1738742400000,1738749600000,1738756800000,1738764000000,1738771200000,1738778400000,1738785600000,1738792800000,1738800000000,1738807200000,1738814400000,1738821600000,1738828800000,1738836000000,1738843200000,1738850400000,1738857600000,1738864800000,1738872000000,1738879200000,1738886400000],"tickSize":{"condition":{"test":"utchours(datum.value) % 6 === 0","value":-6},"value":-3}}},
  "y":{"datum":59,"type":"quantitative","scale":{"domain":[25,65],"nice":false},"axis":{"orient":"right","labels":false,"title":null,"domain":false,"values":[25,30,35,40,45,50,55,60,65],"tickSize":-6}},
  "y2":{"datum":25}}},
{"data":{"name":"blue"},"mark":{"type":"line","strokeWidth":1},
 "encoding":{
  "x":{"field":"t","type":"temporal","axis":{"orient":"bottom","title":null,"domain":false,"values":[1738627200000,1738634400000,1738641600000,1738648800000,1738656000000,1738663200000,1738670400000,1738677600000,1738684800000,1738692000000,1738699200000,1738706400000,1738713600000,1738720800000,1738728000000,1738735200000,1738742400000,1738749600000,1738756800000,1738764000000,1738771200000,1738778400000,1738785600000,1738792800000,1738800000000,1738807200000,1738814400000,1738821600000,1738828800000,1738836000000,1738843200000,1738850400000,1738857600000,1738864800000,1738872000000,1738879200000,1738886400000],"tickSize":{"condition":{"test":"utchours(datum.value) % 6 === 0","value":-6},"value":-3},"labelExpr":"utchours(datum.value) % 6 === 0 ? [utcFormat(datum.value, '%m/%d'), utcFormat(datum.value, '%H:%M')] : ''","labelAlign":"center","labelBaseline":"top","labelLineHeight":13,"labelPadding":12,"labelFlush":false,"labelOverlap":false}},
  "y":{"field":"v","type":"quantitative","axis":{"orient":"left","title":"degrees F","domain":false,"values":[25,30,35,40,45,50,55,60,65],"tickSize":-6,"labelPadding":12,"titlePadding":12}},
  "color":{"field":"s","type":"nominal","scale":{"domain":["G4393 Analysis","G4393"],"range":["#ff0000","#0080ff"]},
   "legend":{"title":null,"orient":"none","legendX":544,"legendY":4,"padding":0,"symbolType":"stroke","symbolSize":100,"symbolStrokeWidth":2,"labelFont":"DejaVu Sans Mono","labelFontSize":10,"labelColor":"black","labelAlign":"right","labelOffset":-25,"rowPadding":3,
     "encode":{"symbols":{"update":{"stroke":{"scale":"color","field":"value"},"shape":{"value":"M-3,0H3"},"strokeWidth":{"value":2},"opacity":{"value":1},"strokeOpacity":{"value":1}}}}}}}},
{"data":{"name":"red"},"mark":{"type":"line","strokeWidth":1},
 "encoding":{
  "x":{"field":"t","type":"temporal","axis":null},
  "y":{"field":"v","type":"quantitative","axis":null},
  "detail":{"field":"seg"},
  "color":{"field":"s","type":"nominal"}}},
{"data":{"name":"sun"},"mark":{"type":"text","angle":270,"align":"left","baseline":"middle","fontSize":10,"font":"DejaVu Sans Mono","color":"black"},
 "encoding":{
  "x":{"field":"t","type":"temporal","axis":null},
  "y":{"datum":59.8,"type":"quantitative","axis":null},
  "text":{"field":"label"}}}
]
}
